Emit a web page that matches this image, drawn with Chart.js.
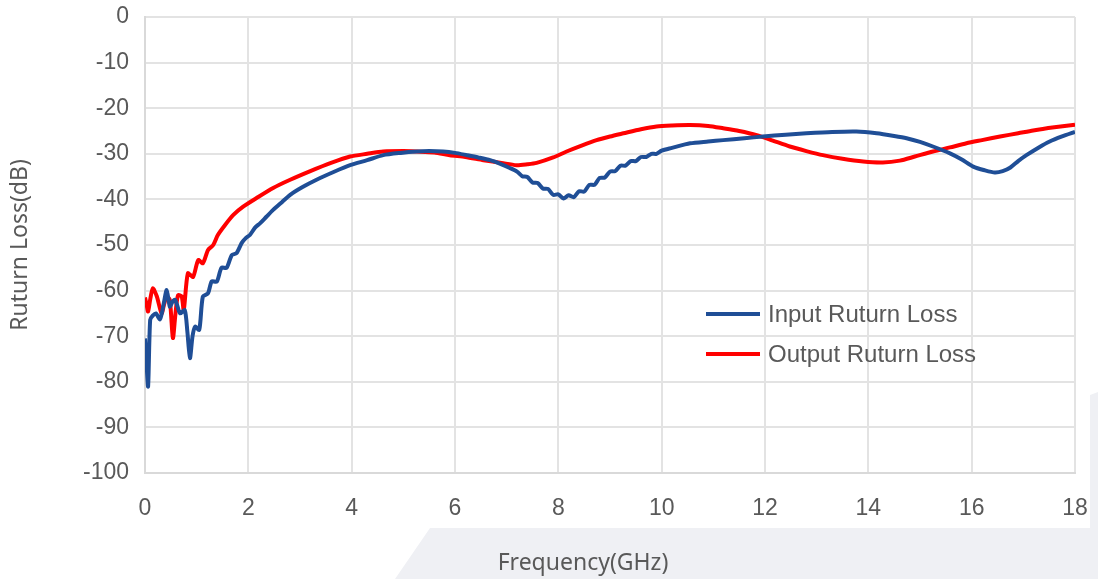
<!DOCTYPE html>
<html>
<head>
<meta charset="utf-8">
<script src="https://cdn.jsdelivr.net/npm/chart.js@4.4.1/dist/chart.umd.min.js"></script>
<style>
  html, body { margin: 0; padding: 0; background: #ffffff; }
  #wrap { width: 1098px; height: 579px; }
</style>
</head>
<body>
<div id="wrap"><canvas id="chart" width="1098" height="579"></canvas></div>
<script>
// Input return loss (blue)
const inputFreq = [0.0, 0.03, 0.06, 0.1, 0.15, 0.21, 0.29, 0.36, 0.42, 0.48, 0.53, 0.58, 0.63, 0.68, 0.77, 0.82, 0.87, 0.92, 0.97, 1.05,
  1.12, 1.22, 1.29, 1.39, 1.48, 1.58, 1.68, 1.77, 1.87, 1.95, 2.03, 2.13, 2.23, 2.35, 2.48, 2.65, 2.81, 3.05, 3.32, 3.65,
  3.97, 4.3, 4.61, 4.95, 5.26, 5.5, 5.77, 6.0, 6.23, 6.45, 6.68, 6.9, 7.06, 7.2, 7.3, 7.4, 7.5, 7.6, 7.7, 7.8,
  7.9, 8.0, 8.1, 8.2, 8.3, 8.4, 8.5, 8.6, 8.7, 8.8, 8.9, 9.0, 9.1, 9.2, 9.3, 9.4, 9.5, 9.6, 9.7, 9.8,
  9.9, 10.0, 10.2, 10.55, 10.9, 11.19, 11.6, 11.96, 12.4, 12.8, 13.3, 13.77, 14.16, 14.5, 14.74, 15.0, 15.25, 15.58, 15.8, 16.03,
  16.25, 16.45, 16.6, 16.75, 16.9, 17.06, 17.3, 17.51, 17.75, 18.0];
const inputLoss = [-70.5, -76, -81, -66.4, -65.5, -65, -66.3, -63, -59.9, -63.5, -62.5, -62, -63.5, -65, -64.3, -69, -74.8, -70, -67.9, -68.6,
  -61.3, -60.6, -58, -58, -55, -55, -52.2, -51.8, -49.6, -48.5, -47.8, -46.2, -45.2, -43.8, -42.3, -40.6, -39, -37.3, -35.7, -34,
  -32.5, -31.4, -30.3, -29.8, -29.5, -29.4, -29.5, -29.8, -30.3, -30.8, -31.4, -32.3, -33.1, -33.9, -34.9, -35.1, -36.3, -36.4, -37.6, -37.7,
  -39.0, -38.9, -39.8, -39.1, -39.5, -38.2, -38.3, -36.8, -36.8, -35.3, -35.2, -33.9, -33.8, -32.6, -32.6, -31.6, -31.6, -30.7, -30.7, -30.0,
  -30.0, -29.3, -28.7, -27.7, -27.3, -27, -26.6, -26.2, -25.8, -25.5, -25.2, -25.1, -25.5, -26.1, -26.6, -27.4, -28.4, -29.9, -31.2, -32.8,
  -33.6, -34.1, -33.8, -33, -31.6, -30.3, -28.6, -27.3, -26.2, -25.2];

// Output return loss (red)
const outputFreq = [0.0, 0.03, 0.06, 0.1, 0.15, 0.23, 0.32, 0.37, 0.42, 0.48, 0.54, 0.59, 0.64, 0.71, 0.75, 0.83, 0.93, 1.03, 1.12, 1.22,
  1.32, 1.41, 1.55, 1.71, 1.9, 2.16, 2.48, 2.81, 3.2, 3.6, 3.97, 4.3, 4.61, 5.0, 5.26, 5.6, 5.9, 6.2, 6.55, 6.9,
  7.19, 7.4, 7.58, 7.9, 8.16, 8.45, 8.74, 9.0, 9.26, 9.6, 9.9, 10.2, 10.55, 10.9, 11.19, 11.5, 11.84, 12.15, 12.48, 12.8,
  13.12, 13.5, 13.9, 14.28, 14.61, 14.9, 15.25, 15.58, 15.9, 16.2, 16.55, 16.9, 17.19, 17.6, 18.0];
const outputLoss = [-61.5, -63, -64.6, -62, -59.5, -61.3, -65, -63, -61.3, -62, -70.4, -65, -61, -61.3, -64.3, -56.2, -57, -53.3, -54, -51.1,
  -50, -47.8, -45.6, -43.4, -41.6, -39.7, -37.5, -35.7, -33.8, -32, -30.6, -30, -29.5, -29.4, -29.5, -29.7, -30.3, -30.7, -31.4, -32,
  -32.5, -32.3, -32, -30.8, -29.5, -28.2, -27, -26.2, -25.5, -24.6, -24, -23.8, -23.7, -23.9, -24.4, -25, -25.9, -27.1, -28.4, -29.4,
  -30.3, -31.1, -31.7, -31.9, -31.5, -30.6, -29.5, -28.6, -27.7, -27, -26.2, -25.5, -24.9, -24.2, -23.6];

const seriesNames = ['Input Ruturn Loss', 'Output Ruturn Loss'];
const seriesColors = ['#1f4e96', '#ff0000'];
const xTitle = 'Frequency(GHz)';
const yTitle = 'Ruturn Loss(dB)';

function toPoints(xs, ys) {
  return xs.map((x, i) => ({ x: x, y: ys[i] }));
}

// drop the label overflow so the layout padding alone places the plot area
function noOverflow(scale) {
  scale.paddingTop = 0;
  scale.paddingBottom = 0;
  scale.paddingLeft = 0;
  scale.paddingRight = 0;
}

// grey backdrop shape behind the chart + legend inside the plot + axis titles
const decorPlugin = {
  id: 'decor',
  beforeDraw(chart) {
    const ctx = chart.ctx;
    ctx.save();
    ctx.fillStyle = '#eff0f4';
    ctx.beginPath();
    ctx.moveTo(430, 528);
    ctx.lineTo(1090, 528);
    ctx.lineTo(1090, 395);
    ctx.lineTo(1098, 392);
    ctx.lineTo(1098, 579);
    ctx.lineTo(395, 579);
    ctx.closePath();
    ctx.fill();
    ctx.restore();
  },
  afterDraw(chart) {
    const ctx = chart.ctx;
    ctx.save();
    // legend
    ctx.font = '24px "Liberation Sans", Arial, sans-serif';
    ctx.textBaseline = 'middle';
    chart.data.datasets.forEach((ds, i) => {
      const y = 314 + i * 40;
      ctx.strokeStyle = ds.borderColor;
      ctx.lineWidth = 4;
      ctx.beginPath();
      ctx.moveTo(706, y);
      ctx.lineTo(760, y);
      ctx.stroke();
      ctx.fillStyle = '#595959';
      ctx.fillText(ds.label, 768, y + 1);
    });
    // axis titles
    ctx.font = '23px "Noto Sans", "Open Sans", sans-serif';
    ctx.fillStyle = '#595959';
    ctx.textAlign = 'center';
    ctx.fillText(xTitle, 583, 563);
    ctx.translate(20, 245);
    ctx.rotate(-Math.PI / 2);
    ctx.fillText(yTitle, 0, 0);
    ctx.restore();
  }
};

const ctx = document.getElementById('chart').getContext('2d');
const chart = new Chart(ctx, {
  type: 'line',
  data: {
    datasets: [{
      label: seriesNames[0],
      data: toPoints(inputFreq, inputLoss),
      borderColor: seriesColors[0],
      borderWidth: 4,
      pointRadius: 0,
      tension: 0.25,
      fill: false
    }, {
      label: seriesNames[1],
      data: toPoints(outputFreq, outputLoss),
      borderColor: seriesColors[1],
      borderWidth: 4,
      pointRadius: 0,
      tension: 0.25,
      fill: false
    }]
  },
  options: {
    responsive: false,
    animation: false,
    layout: {
      padding: { top: 17, right: 23, left: 0, bottom: 0 }
    },
    plugins: {
      legend: { display: false },
      tooltip: { enabled: false }
    },
    scales: {
      x: {
        type: 'linear',
        min: 0,
        max: 18,
        ticks: {
          stepSize: 2,
          color: '#595959',
          font: { family: '"Liberation Sans", Arial, sans-serif', size: 23 },
          padding: 22
        },
        grid: { color: '#e3e3e3', lineWidth: 2, drawTicks: false },
        border: { color: '#d9d9d9', width: 2 },
        afterFit(scale) { scale.height = 106; noOverflow(scale); }
      },
      y: {
        min: -100,
        max: 0,
        ticks: {
          stepSize: 10,
          color: '#595959',
          font: { family: '"Liberation Sans", Arial, sans-serif', size: 23 },
          padding: 16
        },
        grid: { color: '#e3e3e3', lineWidth: 2, drawTicks: false },
        border: { color: '#d9d9d9', width: 2 },
        afterFit(scale) { scale.width = 145; noOverflow(scale); }
      }
    }
  },
  plugins: [decorPlugin]
});
</script>
</body>
</html>
